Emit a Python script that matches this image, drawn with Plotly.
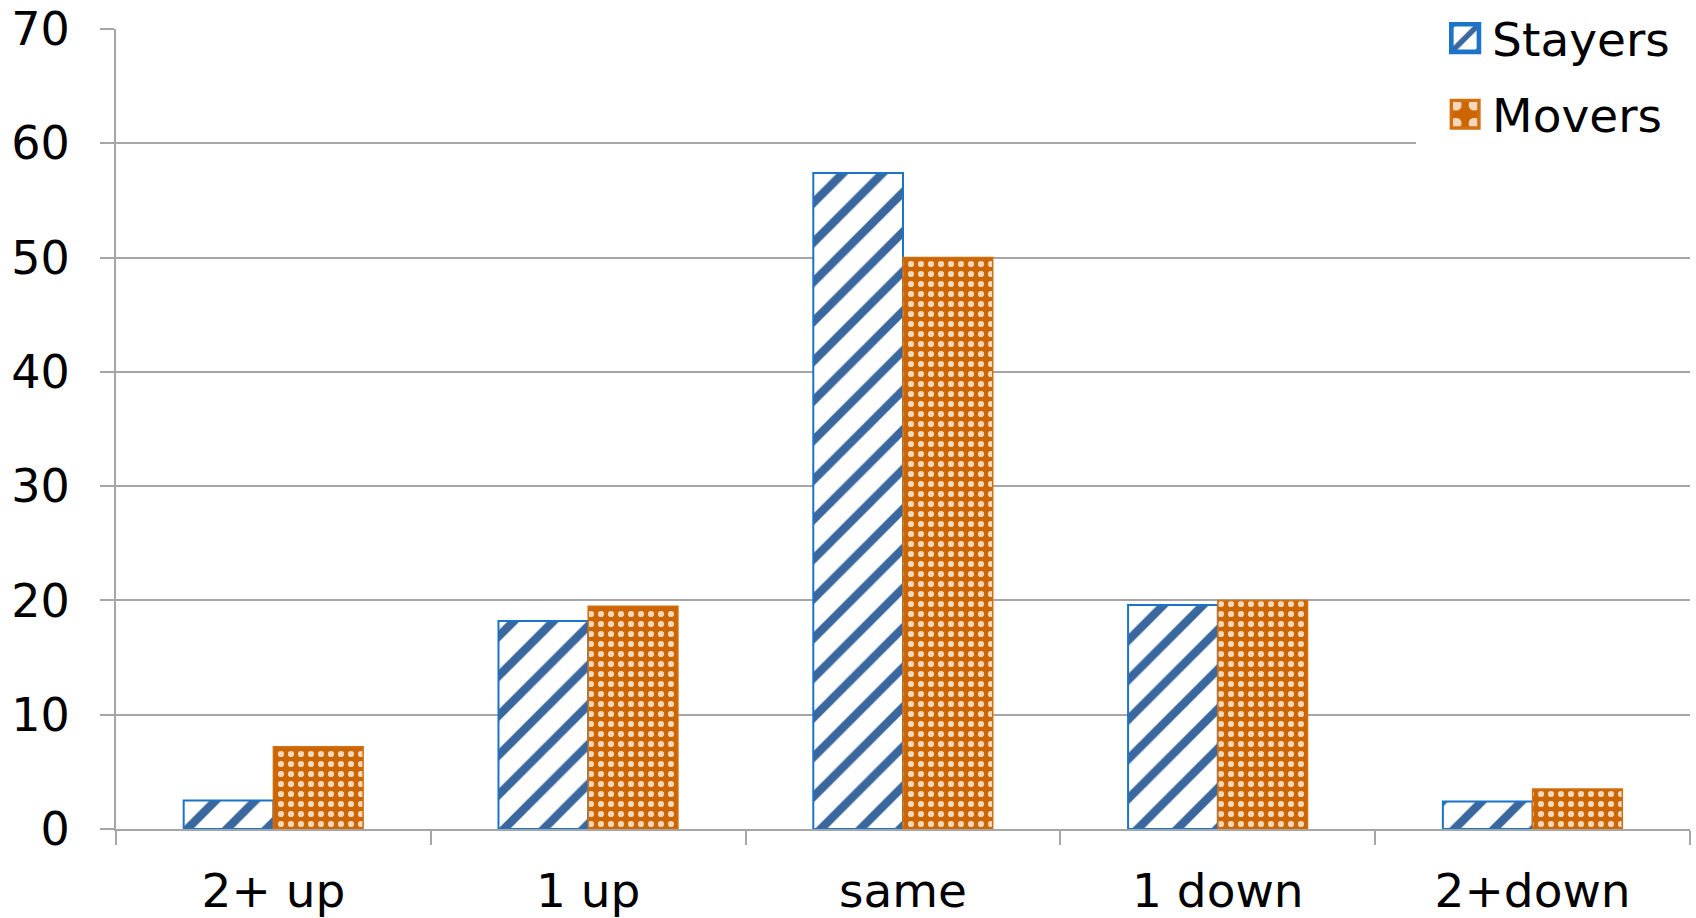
import plotly.graph_objects as go

# Share of respondents (%) by change in position
categories = ["2+ up", "1 up", "same", "1 down", "2+down"]
stayers = [2.5, 18.2, 57.4, 19.6, 2.4]
movers = [7.2, 19.5, 50.0, 20.0, 3.5]
y_ticks = [0, 10, 20, 30, 40, 50, 60, 70]

FONT = "DejaVu Sans, Verdana, sans-serif"
GRID = "#a6a6a6"

fig = go.Figure()
fig.add_trace(go.Bar(
    name="Stayers", x=categories, y=stayers, legendgroup="s",
    marker=dict(
        color="#ffffff",
        line=dict(color="#1b74c8", width=2),
        pattern=dict(shape="/", fgcolor="#3a679e", bgcolor="#ffffff",
                     fgopacity=1, size=28, solidity=0.3, fillmode="overlay"),
    ),
))
fig.add_trace(go.Bar(
    name="Movers", x=categories, y=movers, legendgroup="m",
    marker=dict(
        color="#cc6600",
        line=dict(color="#d26f10", width=1.5),
        pattern=dict(shape=".", fgcolor="#f5d8bc", bgcolor="#cc6600",
                     fgopacity=1, size=10, solidity=0.3, fillmode="overlay"),
    ),
))

fig.update_layout(
    width=1696, height=918,
    margin=dict(l=116, r=6, t=29, b=89, autoexpand=False),
    paper_bgcolor="white", plot_bgcolor="white",
    barmode="group", bargap=0.43, bargroupgap=0,
    font=dict(family=FONT, size=47, color="#000000"),
    legend=dict(
        x=0.826, xanchor="left", y=1.036, yanchor="top",
        bgcolor="white", borderwidth=0,
        font=dict(family=FONT, size=47),
        traceorder="grouped", tracegroupgap=12,
        itemwidth=66,
    ),
    xaxis=dict(
        showline=True, linecolor=GRID, linewidth=2,
        ticks="outside", ticklen=14, tickcolor=GRID, tickwidth=2,
        tickson="boundaries", showgrid=False,
        tickfont=dict(family=FONT, size=47),
        ticklabelstandoff=20,
    ),
    yaxis=dict(
        range=[0, 70], tickvals=y_ticks,
        showline=True, linecolor=GRID, linewidth=2,
        ticks="outside", ticklen=14, tickcolor=GRID, tickwidth=2,
        showgrid=True, gridcolor=GRID, gridwidth=2,
        zeroline=False,
        tickfont=dict(family=FONT, size=46),
        ticklabelstandoff=21,
    ),
)

# enlarge the legend swatches, place them just left of their labels,
# and stretch the legend background to the right edge of the figure
post = """
var gd = document.getElementsByClassName('plotly-graph-div')[0];
gd.querySelectorAll('.legend .traces').forEach(function(tr){
  var p = tr.querySelector('.legendpoints path');
  var txt = tr.querySelector('.legendtext');
  if (!p || !txt) return;
  var orig = p.getAttribute('transform') || '';
  var r = p.getBoundingClientRect();
  var t = txt.getBoundingClientRect();
  var cx = r.left + r.width / 2;
  var cy = r.top + r.height / 2;
  var wantX = t.left - 13 - 14;
  var wantY = t.top + t.height / 2 - 1;
  p.setAttribute('transform',
    'translate(' + (wantX - cx) + ',' + (wantY - cy) + ') ' + orig + ' scale(2.3)');
});
var bg = gd.querySelector('.legend rect.bg');
if (bg) {
  var b = bg.getBoundingClientRect();
  var extra = gd.getBoundingClientRect().right - b.right;
  if (extra > 0) {
    bg.setAttribute('width', parseFloat(bg.getAttribute('width')) + extra);
  }
}
"""
fig.write_html("out.html", post_script=post)
